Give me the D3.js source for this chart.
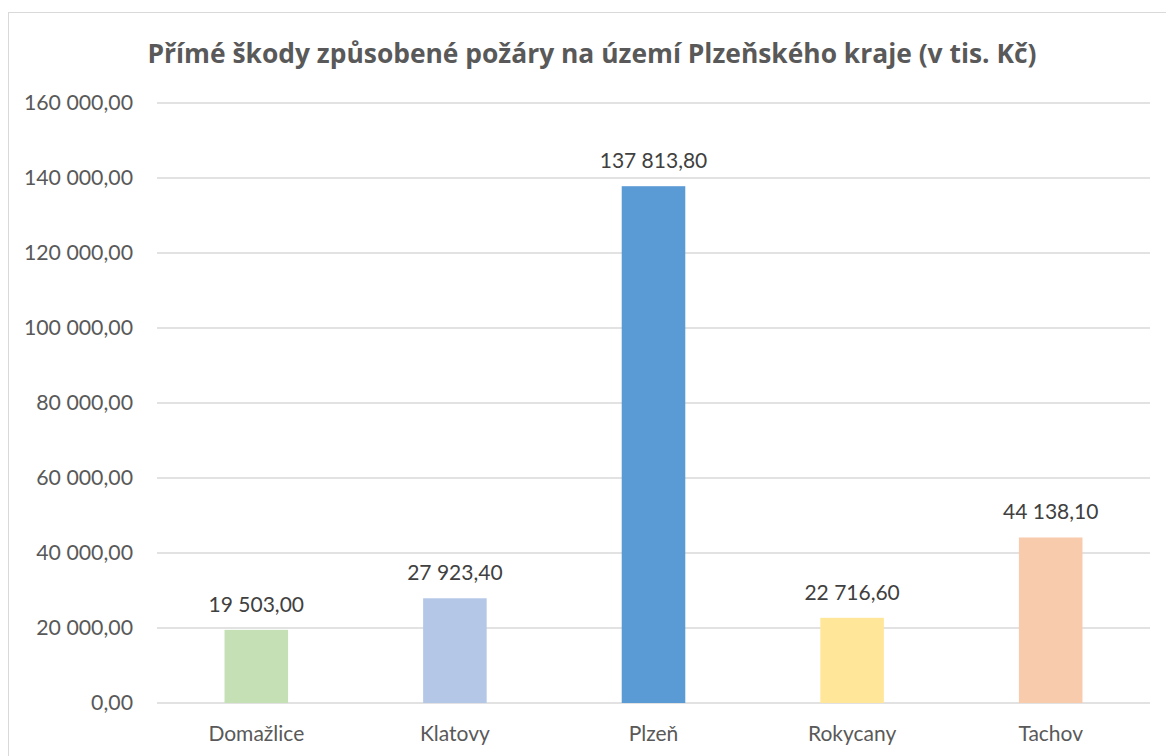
<!DOCTYPE html>
<html>
<head>
<meta charset="utf-8">
<script src="https://cdn.jsdelivr.net/npm/d3@7"></script>
<style>
  body { margin: 0; background: #fff; }
  text { font-family: Lato, "Noto Sans", sans-serif; }
</style>
</head>
<body>
<div id="canvas"></div>
<script>
const categories = ["Domažlice", "Klatovy", "Plzeň", "Rokycany", "Tachov"];
const values = [19503.00, 27923.40, 137813.80, 22716.60, 44138.10];
const barColors = ["#C5E0B4", "#B4C7E7", "#5B9BD5", "#FFE699", "#F8CBAD"];
const yTicks = [0, 20000, 40000, 60000, 80000, 100000, 120000, 140000, 160000];
const title = "Přímé škody způsobené požáry na území Plzeňského kraje (v tis. Kč)";

const w = 1166;
const h = 756;
const margin = { top: 103, right: 16, bottom: 53, left: 157 };
const width = w - margin.left - margin.right;
const height = h - margin.top - margin.bottom;

// czech number format: space thousands, comma decimal
const fmt = d3.formatLocale({ decimal: ",", thousands: " ", grouping: [3], currency: ["", " Kč"] }).format(",.2f");

const svg = d3.select("#canvas")
  .append("svg")
  .attr("width", w)
  .attr("height", h);

// chart frame
svg.append("rect")
  .attr("x", 8.5).attr("y", 12.5)
  .attr("width", w + 20).attr("height", h + 20)
  .attr("fill", "none")
  .attr("stroke", "#D9D9D9");

svg.append("text")
  .attr("x", 592).attr("y", 63)
  .attr("text-anchor", "middle")
  .attr("font-size", 26.4)
  .attr("font-weight", "bold")
  .attr("fill", "#595959")
  .style("font-family", "'Open Sans', sans-serif")
  .text(title);

const chart = svg.append("g")
  .attr("transform", "translate(" + margin.left + "," + margin.top + ")");

const x = d3.scaleBand()
  .domain(categories)
  .range([0, width])
  .paddingInner(0.68)
  .paddingOuter(0.34);

const y = d3.scaleLinear()
  .domain([0, 160000])
  .range([height, 0]);

// gridlines
chart.append("g")
  .selectAll("line")
  .data(yTicks)
  .join("line")
  .attr("x1", 0).attr("x2", width)
  .attr("y1", d => y(d)).attr("y2", d => y(d))
  .attr("stroke", "#D9D9D9")
  .attr("stroke-width", 1.5);

const yAxis = d3.axisLeft(y).tickValues(yTicks).tickFormat(fmt).tickSize(0).tickPadding(24);
const gy = chart.append("g").call(yAxis);
gy.select(".domain").remove();
gy.selectAll("text")
  .attr("font-size", 21.3)
  .attr("fill", "#595959")
  .style("font-family", "Lato, 'Noto Sans', sans-serif");

chart.selectAll(".bar")
  .data(values)
  .join("rect")
  .attr("class", "bar")
  .attr("x", (d, i) => x(categories[i]))
  .attr("y", d => y(d))
  .attr("width", x.bandwidth())
  .attr("height", d => height - y(d))
  .attr("fill", (d, i) => barColors[i]);

chart.selectAll(".label")
  .data(values)
  .join("text")
  .attr("class", "label")
  .attr("x", (d, i) => x(categories[i]) + x.bandwidth() / 2)
  .attr("y", d => y(d) - 18)
  .attr("text-anchor", "middle")
  .attr("font-size", 21)
  .attr("fill", "#404040")
  .text(d => fmt(d));

const xAxis = d3.axisBottom(x).tickSize(0).tickPadding(23);
const gx = chart.append("g")
  .attr("transform", "translate(0," + height + ")")
  .call(xAxis);
gx.select(".domain").remove();
gx.selectAll("text")
  .attr("font-size", 21)
  .attr("fill", "#595959")
  .style("font-family", "Lato, 'Noto Sans', sans-serif");
</script>
</body>
</html>
